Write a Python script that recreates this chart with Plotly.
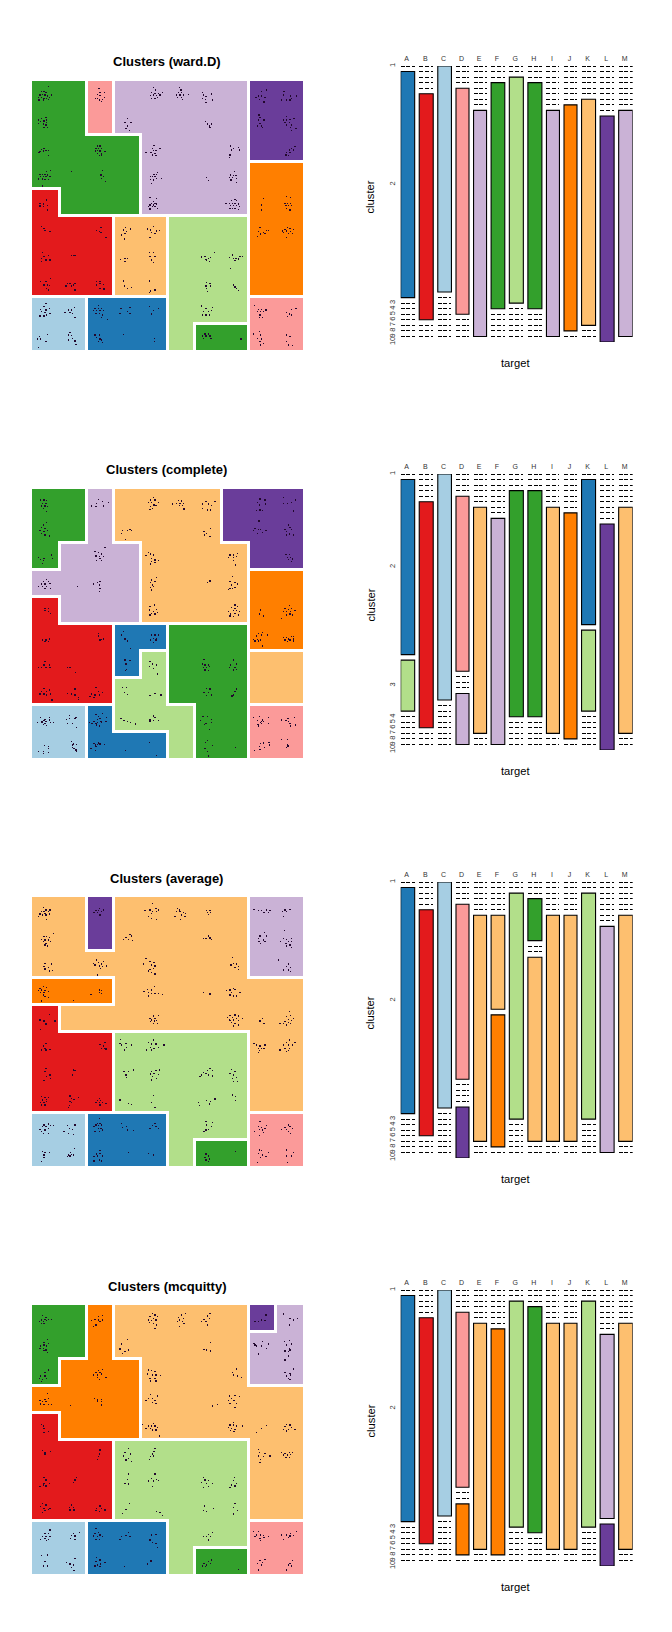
import plotly.graph_objects as go

W, H = 672, 1632
palette = ["#A6CEE3", "#1F78B4", "#B2DF8A", "#33A02C", "#FB9A99",
           "#E31A1C", "#FDBF6F", "#FF7F00", "#CAB2D6", "#6A3D9A"]
targets = list("ABCDEFGHIJKLM")
target_sizes = [42, 42, 41, 39, 39, 41, 42, 42, 39, 39, 42, 42, 42]
titles = ["Clusters (ward.D)", "Clusters (complete)", "Clusters (average)", "Clusters (mcquitty)"]

ward_grid = [
    [4, 4, 5, 9, 9, 9, 9, 9, 10, 10],
    [4, 4, 5, 9, 9, 9, 9, 9, 10, 10],
    [4, 4, 4, 4, 9, 9, 9, 9, 10, 10],
    [4, 4, 4, 4, 9, 9, 9, 9, 8, 8],
    [6, 4, 4, 4, 9, 9, 9, 9, 8, 8],
    [6, 6, 6, 7, 7, 3, 3, 3, 8, 8],
    [6, 6, 6, 7, 7, 3, 3, 3, 8, 8],
    [6, 6, 6, 7, 7, 3, 3, 3, 8, 8],
    [1, 1, 2, 2, 2, 3, 3, 3, 5, 5],
    [1, 1, 2, 2, 2, 3, 4, 4, 5, 5],
]
complete_grid = [
    [4, 4, 9, 7, 7, 7, 7, 10, 10, 10],
    [4, 4, 9, 7, 7, 7, 7, 10, 10, 10],
    [4, 9, 9, 9, 7, 7, 7, 7, 10, 10],
    [9, 9, 9, 9, 7, 7, 7, 7, 8, 8],
    [6, 9, 9, 9, 7, 7, 7, 7, 8, 8],
    [6, 6, 6, 2, 2, 4, 4, 4, 8, 8],
    [6, 6, 6, 2, 3, 4, 4, 4, 7, 7],
    [6, 6, 6, 3, 3, 4, 4, 4, 7, 7],
    [1, 1, 2, 3, 3, 3, 4, 4, 5, 5],
    [1, 1, 2, 2, 2, 3, 4, 4, 5, 5],
]
average_grid = [
    [7, 7, 10, 7, 7, 7, 7, 7, 9, 9],
    [7, 7, 10, 7, 7, 7, 7, 7, 9, 9],
    [7, 7, 7, 7, 7, 7, 7, 7, 9, 9],
    [8, 8, 8, 7, 7, 7, 7, 7, 7, 7],
    [6, 7, 7, 7, 7, 7, 7, 7, 7, 7],
    [6, 6, 6, 3, 3, 3, 3, 3, 7, 7],
    [6, 6, 6, 3, 3, 3, 3, 3, 7, 7],
    [6, 6, 6, 3, 3, 3, 3, 3, 7, 7],
    [1, 1, 2, 2, 2, 3, 3, 3, 5, 5],
    [1, 1, 2, 2, 2, 3, 4, 4, 5, 5],
]
mcquitty_grid = [
    [4, 4, 8, 7, 7, 7, 7, 7, 10, 9],
    [4, 4, 8, 7, 7, 7, 7, 7, 9, 9],
    [4, 8, 8, 8, 7, 7, 7, 7, 9, 9],
    [8, 8, 8, 8, 7, 7, 7, 7, 7, 7],
    [6, 8, 8, 8, 7, 7, 7, 7, 7, 7],
    [6, 6, 6, 3, 3, 3, 3, 3, 7, 7],
    [6, 6, 6, 3, 3, 3, 3, 3, 7, 7],
    [6, 6, 6, 3, 3, 3, 3, 3, 7, 7],
    [1, 1, 2, 2, 2, 3, 3, 3, 5, 5],
    [1, 1, 2, 2, 2, 3, 4, 4, 5, 5],
]

# share of each target in each cluster, one dict per target A..M
ward_shares = [{2: 1}, {6: 1}, {1: 1}, {5: 1}, {9: 1}, {4: 1}, {3: 1}, {4: 1}, {9: 1}, {8: 1}, {7: 1}, {10: 1}, {9: 1}]
complete_shares = [{2: 175, 3: 51}, {6: 1}, {1: 1}, {5: 175, 9: 51}, {7: 1}, {9: 1}, {4: 1}, {4: 1}, {7: 1}, {8: 1},
                   {2: 145, 3: 81}, {10: 1}, {7: 1}]
average_shares = [{2: 1}, {6: 1}, {1: 1}, {5: 175, 10: 51}, {7: 1}, {7: 94, 8: 132}, {3: 1}, {4: 42, 7: 184}, {7: 1},
                  {7: 1}, {3: 1}, {9: 1}, {7: 1}]
mcquitty_shares = [{2: 1}, {6: 1}, {1: 1}, {5: 175, 8: 51}, {7: 1}, {8: 1}, {3: 1}, {4: 1}, {7: 1}, {7: 1}, {3: 1},
                   {9: 184, 10: 42}, {7: 1}]

ward_dots = [
 (85,139),(65,155),(72,155),(78,158),(60,165),(68,163),(75,165),(82,168),(95,165),(55,172),(65,172),(72,175),(80,175),(88,172),(57,180),(70,180),(85,178),
 (78,232),(65,235),(55,240),(62,245),(72,243),(80,240),(55,250),(70,252),(78,255),(83,262),(72,262),(80,248),
 (72,325),(65,328),(85,331),(60,335),(70,333),(78,332),(57,338),(85,346),
 (92,392),(80,395),(60,403),(68,403),(75,403),(82,405),(62,410),(70,410),(78,410),(90,410),(55,417),(68,417),(75,418),(85,418),(67,438),(154,394),
 (232,318),(240,318),(228,325),(236,325),(245,325),(226,333),(240,333),(255,335),(232,340),(245,340),(238,347),(245,345),(232,332),
 (248,392),(243,405),(250,410),(245,415),(256,425),
 (237,145),(240,158),(253,158),(232,163),(240,167),(226,175),(238,180),(247,178),(253,172),(245,185),(232,175),
 (401,142),(407,150),(395,158),(405,160),(415,160),(428,157),(392,167),(400,165),(410,167),(420,165),(395,175),(405,175),(412,172),
 (478,142),(483,150),(475,158),(485,158),(470,165),(480,165),(490,165),(505,163),(472,172),(485,172),(488,178),
 (547,157),(575,162),(550,165),(558,170),(548,175),(556,178),(558,188),(578,180),
 (322,235),(315,247),(333,248),(322,258),(318,265),(328,272),
 (557,245),(563,252),(575,252),(568,258),(570,263),
 (402,316),(398,325),(420,325),(400,332),(408,332),(378,338),(393,338),(405,340),(398,345),(408,347),
 (632,318),(640,325),(655,322),(635,330),(658,330),(630,345),(628,352),
 (412,397),(402,403),(410,403),(392,410),(398,410),(405,410),(410,415),(425,415),(392,418),(400,420),(395,430),
 (560,413),(566,421),
 (643,394),(632,405),(640,407),(648,407),(628,412),(638,412),(650,415),(650,427),(633,420),
 (390,473),(410,476),(400,485),(395,490),(405,490),(390,495),(400,495),(410,492),(385,500),(398,500),(412,505),(390,507),(405,500),
 (645,478),(635,482),(650,482),(628,490),(637,490),(645,490),(618,490),(655,492),(632,497),(640,497),(650,497),(638,505),(645,505),(658,500),(655,508),(630,505),
 (80,480),(60,490),(70,492),(82,497),(60,498),(70,500),(83,510),
 (65,560),(72,565),(75,572),(90,575),(243,563),(230,572),(238,575),(243,578),(258,593),
 (68,637),(72,650),(85,647),(65,655),(78,660),(90,660),(65,665),(155,647),(160,647),(165,647),
 (92,715),(62,725),(78,725),(72,735),(82,735),(88,737),(80,745),(85,750),
 (142,730),(150,730),(165,730),(138,738),(155,738),(165,750),(160,735),
 (230,725),(240,725),(230,735),(240,730),(250,733),(240,745),(252,747),
 (317,562),(332,567),(310,570),(320,575),(315,580),(305,585),(313,597),
 (400,560),(383,567),(392,570),(410,573),(418,572),(395,577),(405,580),(390,593),
 (302,658),(315,655),(322,655),(315,665),(388,637),(400,637),(390,650),(405,650),(395,660),(400,667),
 (310,723),(313,738),(323,745),(335,743),(388,723),(405,750),(392,753),(388,757),
 (583,637),(545,650),(555,650),(565,655),(572,652),(560,662),(568,665),(545,652),(558,658),
 (638,645),(628,652),(640,655),(648,655),(660,650),(655,657),(668,650),(645,662),(632,685),
 (560,728),(570,730),(558,738),(572,738),(560,745),(563,755),(640,735),(645,741),(650,746),(655,752),
 (545,798),(558,805),(577,803),(550,815),(565,815),(575,812),(547,825),(558,825),(568,825),
 (555,882),(565,882),(548,888),(558,888),(570,888),(550,895),(573,895),(663,897),
 (78,790),(72,800),(88,805),(62,808),(78,810),(65,815),(75,818),(90,820),(60,828),(72,828),(80,825),
 (163,803),(145,810),(155,810),(135,817),(150,817),(158,820),(165,832),
 (82,883),(58,890),(52,897),(62,897),(78,905),(55,922),
 (150,878),(145,885),(155,887),(158,895),(145,900),(165,903),(168,913),
 (235,797),(225,805),(235,805),(245,805),(220,812),(230,812),(240,812),(250,812),(228,820),(238,820),(248,825),(245,832),(262,838),
 (303,805),(330,802),(322,815),(300,820),(330,820),(388,800),(415,805),(400,812),(395,822),
 (225,885),(238,885),(230,892),(240,897),(245,900),(235,905),(248,908),(310,883),(403,895),(403,905),
 (703,797),(715,808),(725,808),(738,810),(712,815),(722,815),(730,815),(720,825),(728,832),(718,832),
 (828,805),(815,808),(800,817),(808,822),(815,825),(802,830),
 (718,875),(700,882),(722,885),(712,895),(725,897),(720,905),(730,910),(722,915),
 (800,885),(810,890),(800,905),(805,915),(818,917),
 (740,150),(725,155),(715,168),(725,168),(708,172),(735,172),(718,178),(732,186),
 (792,155),(790,165),(812,168),(830,168),(785,180),(800,180),(810,180),(815,175),
 (717,225),(720,232),(715,240),(732,240),(720,250),(712,258),(725,258),(728,262),
 (800,230),(790,240),(800,240),(810,238),(822,235),(795,247),(808,247),(815,255),(800,255),(812,262),(828,265),(815,272),
 (825,320),(815,325),(808,330),(820,330),(800,338),(810,338),(798,345),(805,347),
 (730,475),(725,495),(725,510),
 (800,470),(812,472),(795,490),(803,490),(812,490),(798,497),(805,497),(815,497),(800,505),(810,510),
 (720,563),(730,578),(745,572),(715,575),(735,580),(722,582),(712,590),(740,572),
 (803,562),(795,568),(810,565),(820,568),(788,573),(800,573),(812,575),(790,578),(805,580),(818,580),(800,592),
]
complete_dots = [
 (62,180),(72,178),(80,182),(68,190),(78,190),(65,198),(75,198),(82,200),(70,205),(80,215),(72,182),
 (80,248),(70,255),(65,262),(75,265),(60,272),(72,275),(82,272),(65,280),(75,285),(88,288),
 (55,352),(62,358),(72,355),(95,345),(97,355),(70,362),(68,370),
 (235,178),(230,190),(247,185),(265,187),(215,198),(228,200),(250,198),
 (255,322),(225,335),(235,338),(245,342),(228,348),(238,350),(250,350),(240,355),(230,362),(245,362),
 (80,418),(70,425),(85,425),(65,432),(75,432),(90,430),(55,440),(68,440),(80,440),(92,445),(75,445),(172,439),
 (240,425),(220,432),(232,428),(238,435),(240,445),(238,455),
 (400,172),(392,180),(405,180),(385,187),(395,187),(415,187),(402,195),(392,200),(408,197),(398,205),(390,208),
 (475,182),(485,183),(458,192),(470,190),(480,190),(490,190),(478,197),(488,197),(492,207),
 (558,185),(585,185),(548,192),(565,192),(575,197),(548,205),(562,210),(572,210),
 (330,268),(308,272),(322,272),(335,272),(316,298),(305,280),
 (572,265),(552,275),(560,280),(553,285),(570,290),
 (385,337),(392,342),(378,347),(400,345),(395,355),(405,360),(415,362),(395,365),(405,368),(392,372),
 (652,340),(630,345),(640,345),(625,352),(640,352),(650,350),(640,362),(647,375),
 (410,412),(395,420),(392,428),(405,425),(398,435),(392,442),(400,440),(395,450),(562,428),(570,423),
 (637,410),(630,425),(645,428),(652,432),(635,435),(630,445),(645,442),(625,448),(638,445),
 (403,495),(390,500),(410,508),(388,510),(400,515),(395,520),(412,518),(390,525),(405,522),
 (645,495),(652,500),(635,503),(645,505),(625,515),(640,512),(650,512),(658,515),(632,522),(645,520),(655,525),(640,530),(630,528),
 (75,505),(85,505),(75,512),(85,515),(92,520),(68,600),(78,600),(88,597),(75,605),(85,605),
 (235,580),(235,588),(245,598),(240,600),(250,597),
 (75,665),(55,683),(72,675),(88,675),(65,683),(78,682),(90,682),(142,682),(150,682),(167,697),
 (72,745),(88,750),(65,755),(80,755),(60,762),(72,762),(92,762),(80,765),(96,780),
 (165,747),(142,760),(155,762),(165,765),(175,772),(175,778),
 (228,742),(235,755),(248,757),(215,762),(225,765),(238,765),(210,770),(222,772),
 (310,575),(305,585),(315,597),(322,603),(332,625),
 (395,585),(405,585),(415,585),(400,595),(410,595),(392,600),(408,600),(400,607),
 (315,660),(330,662),(318,672),(320,688),(316,692),
 (390,665),(398,672),(410,675),(388,680),(400,685),(412,702),
 (308,742),(320,743),(313,757),(323,763),(405,760),(390,767),(423,765),
 (303,836),(312,841),(323,845),(331,847),(347,852),
 (400,828),(405,832),(390,838),(390,843),(400,842),(415,842),
 (552,658),(548,672),(555,675),(565,675),(550,682),(560,682),(568,680),(555,690),(565,692),
 (640,660),(632,675),(650,672),(645,682),(628,682),(640,690),(650,688),
 (560,745),(570,747),(552,757),(565,757),(575,765),(560,767),(650,747),(645,755),(640,765),(636,768),
 (549,830),(562,829),(574,838),(541,841),(558,850),(574,847),(553,853),(568,868),
 (556,907),(562,901),(577,916),(555,925),(562,934),(565,948),(646,922),
 (61,832),(88,832),(75,838),(72,842),(68,846),(78,845),(52,848),(64,846),(88,840),(70,854),(79,856),(91,848),(100,848),(75,850),
 (148,826),(140,838),(148,836),(165,835),(168,833),(143,850),(157,850),(169,862),
 (73,916),(85,920),(85,926),(55,934),(70,934),(85,937),(70,940),
 (154,904),(170,913),(158,915),(158,922),(162,926),(168,930),(170,935),(160,912),
 (228,823),(247,820),(236,830),(259,832),(240,836),(233,838),(222,845),(233,848),(245,848),(209,848),(258,845),(230,855),(238,858),(228,850),(243,845),(216,851),
 (222,910),(236,909),(240,912),(226,915),(232,913),(253,913),(228,919),(213,925),(226,931),(388,907),(316,931),(409,946),
 (700,832),(718,830),(745,832),(728,840),(725,845),(712,842),(730,845),(722,848),(745,850),(714,853),(725,850),(716,858),
 (802,835),(806,835),(823,832),(785,840),(798,842),(806,845),(810,850),(826,855),(812,858),
 (722,910),(730,909),(747,907),(718,920),(733,922),(748,915),(720,928),(703,931),
 (784,898),(802,898),(802,915),(800,922),(804,918),
 (720,177),(735,180),(712,187),(737,192),(718,195),(710,212),(720,210),(728,212),
 (790,172),(827,180),(790,190),(803,190),(815,187),(820,213),
 (717,243),(705,265),(715,268),(722,268),(738,272),(712,280),(728,278),(700,272),
 (805,255),(795,268),(810,262),(815,268),(800,275),(808,282),(820,285),(800,285),
 (798,343),(808,343),(802,352),(812,352),(805,358),(818,357),(815,365),
 (722,510),(718,522),(730,528),
 (808,497),(795,505),(805,508),(815,505),(790,515),(800,515),(812,515),(825,512),(785,535),(800,525),(818,525),(810,522),
 (728,578),(715,580),(710,588),(725,585),(742,585),(700,598),(712,598),(722,600),(705,603),(716,603),(728,618),
 (790,592),(800,592),(815,590),(820,590),(805,597),(820,597),(795,600),(810,600),(820,603),(803,605),
]
average_dots = [
 (70,142),(90,150),(78,150),(65,155),(72,155),(85,155),(60,162),(75,160),(88,162),(55,170),(68,165),(80,178),(78,165),
 (100,220),(72,230),(80,230),(88,232),(65,238),(75,240),(85,240),(70,245),(92,245),(78,250),(82,258),(75,255),
 (75,310),(95,312),(72,320),(85,322),(75,327),(97,332),(88,333),
 (238,145),(228,152),(235,152),(250,150),(222,158),(232,158),(245,155),(240,165),
 (230,300),(220,310),(235,308),(245,312),(260,318),(238,318),(248,320),(225,315),(242,325),(232,345),(250,305),
 (70,380),(60,385),(80,383),(55,392),(65,390),(75,392),(62,398),(72,398),(85,395),(70,405),(75,410),(85,413),(65,423),(160,421),
 (238,390),(245,392),(213,403),(238,397),(245,400),
 (397,130),(408,145),(375,152),(390,150),(415,150),(398,155),(410,155),(385,170),(395,175),(410,178),(395,160),
 (473,145),(478,150),(480,155),(490,158),(497,160),(470,155),(485,165),(465,170),(495,170),(482,178),
 (560,152),(570,152),(563,158),(572,158),(566,163),
 (330,223),(318,232),(335,228),(310,238),(325,238),(337,242),
 (565,228),(550,236),(558,236),(570,234),(575,238),
 (378,295),(390,305),(402,308),(370,312),(395,315),(405,318),(400,325),(385,333),(395,338),(405,342),(390,328),
 (637,292),(640,310),(633,315),(650,312),(645,322),(655,320),(655,328),
 (403,380),(382,388),(395,390),(372,395),(385,397),(405,400),(415,400),(428,403),(395,400),(385,408),(550,397),(570,402),
 (640,385),(630,390),(645,388),(620,392),(635,397),(660,398),(630,405),(640,408),(650,408),
 (415,467),(400,468),(390,475),(405,475),(395,480),(403,483),(410,482),(392,485),(400,490),(412,490),
 (630,467),(645,465),(655,468),(622,472),(638,472),(650,475),(668,475),(628,480),(640,480),(655,482),(635,488),(645,490),(655,495),(640,498),(630,482),
 (727,475),(720,483),(732,490),
 (808,455),(812,467),(800,470),(820,475),(805,478),(815,482),(795,485),(805,488),(780,490),(790,490),(800,495),(812,490),
 (88,463),(60,480),(72,483),(105,483),(78,492),(62,508),
 (78,550),(70,558),(75,565),(65,570),(78,570),(90,568),(255,547),(240,553),(250,558),(255,565),(245,565),(258,567),
 (78,625),(75,635),(90,645),(80,650),(92,655),(72,662),(160,630),(165,632),(158,645),
 (65,710),(75,712),(85,712),(68,720),(80,718),(62,728),(72,728),(80,725),(65,735),(75,735),
 (150,708),(175,712),(155,715),(162,718),(150,725),(155,728),(148,737),(145,743),
 (238,715),(232,722),(242,722),(228,728),(238,728),(248,728),(240,735),(258,730),
 (302,538),(300,550),(318,550),(335,555),(305,555),(320,562),(313,570),
 (400,540),(385,547),(395,552),(408,552),(432,555),(380,570),(392,562),(402,565),(415,562),(395,570),
 (340,630),(312,635),(325,635),(318,645),(320,652),
 (418,630),(395,635),(408,632),(392,642),(402,640),(415,643),(398,650),(395,660),(410,655),
 (570,625),(562,632),(578,632),(550,638),(558,640),(545,645),(565,645),(578,648),(540,650),
 (635,628),(645,635),(630,640),(640,645),(650,652),(638,655),(640,665),(652,665),
 (300,720),(325,730),(335,733),(400,706),(395,727),(405,742),
 (585,717),(535,727),(560,722),(572,725),(568,732),(538,737),(637,705),(647,710),(647,722),
 (558,785),(578,787),(560,795),(575,800),(565,808),(552,815),(558,810),
 (558,882),(565,888),(555,893),(568,897),(558,900),(565,905),(646,874),
 (85,792),(72,795),(60,808),(68,800),(78,800),(92,797),(100,797),(65,815),(75,810),(85,805),(70,820),(85,820),
 (143,796),(165,795),(148,805),(158,808),(132,815),(145,820),(160,823),
 (68,875),(75,878),(88,877),(72,885),(72,892),(65,905),
 (163,865),(152,878),(145,885),(155,883),(142,890),(150,888),(160,885),
 (238,775),(232,790),(240,790),(228,795),(236,797),(245,795),(222,800),(235,805),(243,805),(248,810),(238,815),(225,815),
 (305,790),(308,803),(320,800),(322,810),(340,812),(405,790),(398,797),(390,805),(408,800),(415,805),
 (240,872),(230,882),(240,880),(222,890),(232,888),(248,888),(222,903),(238,900),(245,903),(325,877),(385,880),(400,885),
 (720,785),(740,797),(715,800),(725,803),(735,805),(703,815),(718,808),(728,810),(730,817),(718,827),
 (805,795),(795,802),(810,800),(785,808),(800,808),(818,805),(805,815),(812,820),
 (718,870),(725,872),(745,877),(715,880),(728,885),(738,890),(722,892),(712,907),
 (800,870),(820,878),(815,888),(800,888),(802,907),
 (702,148),(715,152),(725,152),(740,150),(750,152),(732,157),(745,158),
 (810,148),(795,150),(788,155),(800,155),(790,170),
 (733,217),(720,228),(740,228),(715,235),(730,240),(717,245),(722,250),(735,245),
 (793,212),(790,235),(800,238),(815,235),(782,245),(805,245),(815,245),(798,250),(810,255),(800,258),(815,262),
 (775,300),(805,312),(800,320),(812,322),(790,330),(805,330),(812,335),
 (702,550),(710,555),(720,558),(735,555),(715,565),(725,565),(732,565),(718,572),(715,578),
 (808,540),(800,548),(825,548),(790,555),(805,555),(818,555),(780,570),(795,565),(808,565),(800,575),(805,572),
]
mcquitty_dots = [
 (68,137),(78,143),(65,150),(75,148),(85,148),(95,148),(58,155),(70,155),(80,152),(65,160),(72,160),
 (82,208),(72,218),(85,220),(62,228),(72,225),(80,228),(60,235),(70,235),(78,240),(82,247),(72,242),
 (85,300),(75,308),(62,318),(75,318),(58,325),(68,328),(80,325),(65,335),
 (248,137),(235,140),(225,148),(235,150),(248,150),(215,152),(240,155),(228,165),(220,170),
 (248,298),(235,302),(228,308),(240,308),(220,315),(232,315),(245,312),(258,322),(232,322),(238,328),
 (83,370),(75,388),(85,385),(60,392),(68,395),(78,395),(62,402),(72,403),(85,403),(95,403),(152,406),
 (223,385),(232,390),(245,388),(245,395),(245,405),(232,395),
 (398,130),(405,135),(390,140),(400,145),(412,140),(385,150),(395,152),(408,150),(388,158),(400,160),(410,165),(405,175),
 (497,130),(485,135),(475,142),(490,145),(478,150),(488,155),(472,155),(492,160),(478,170),
 (570,130),(562,138),(552,148),(568,145),(545,155),(558,155),(562,165),
 (323,208),(305,222),(300,237),(325,240),(315,245),(308,250),(572,217),(552,238),(560,240),(572,243),
 (385,300),(395,302),(405,305),(382,312),(398,315),(408,315),(422,317),(390,325),(405,325),(392,333),(408,333),
 (650,297),(637,308),(640,315),(652,318),(665,322),
 (392,373),(412,378),(385,385),(398,385),(378,392),(405,392),(398,398),(408,400),(578,408),(592,403),
 (628,378),(645,377),(635,385),(658,380),(625,392),(642,392),(630,400),(650,400),(645,412),
 (367,463),(400,460),(385,468),(395,468),(405,468),(378,475),(392,475),(412,473),(398,480),(408,480),(418,498),
 (640,458),(630,465),(640,465),(650,468),(668,468),(625,472),(635,475),(645,478),(632,482),(642,485),
 (740,467),(725,475),(710,487),
 (800,463),(810,465),(795,470),(815,472),(790,478),(805,478),(825,478),(800,483),
 (65,463),(70,468),(72,475),(85,485),(72,487),(68,542),(75,548),(92,545),(75,552),
 (240,540),(238,552),(235,560),(232,568),
 (72,622),(78,630),(72,640),(88,640),(70,645),(60,650),(78,648),(165,630),(160,637),(170,622),
 (68,700),(78,705),(62,710),(72,715),(85,718),(75,722),(68,728),(90,715),
 (155,705),(148,712),(160,712),(150,720),(162,720),
 (240,708),(230,715),(245,715),(228,722),(238,725),(255,720),
 (325,535),(315,548),(332,552),(310,558),(325,565),(318,570),(335,575),
 (405,535),(402,545),(398,552),(392,560),(388,568),(400,558),
 (325,612),(322,628),(315,640),(325,642),
 (405,612),(395,625),(410,628),(385,633),(400,633),(415,632),(397,650),
 (550,622),(555,630),(565,632),(578,640),(545,637),(560,640),(550,652),(565,650),
 (643,622),(640,632),(650,640),(635,645),(645,648),(630,652),
 (328,700),(318,718),(307,730),(410,725),(420,728),(428,737),
 (553,708),(580,715),(550,722),(560,725),(645,700),(640,712),(652,722),(640,732),
 (578,787),(565,793),(560,800),(550,800),(572,800),(565,810),
 (575,870),(565,875),(552,880),(560,885),(572,880),(548,888),(556,890),(655,898),
 (90,780),(75,790),(85,790),(68,800),(78,800),(90,800),(62,808),(75,805),(85,808),(80,812),
 (178,787),(160,790),(155,797),(165,798),(152,805),(165,808),
 (65,857),(82,855),(75,875),(70,888),(82,888),
 (165,865),(140,878),(150,882),(160,885),(155,892),(162,902),
 (228,775),(235,787),(225,790),(240,795),(220,798),(232,800),(248,800),(228,808),(238,808),
 (325,787),(318,797),(305,800),(330,800),(300,808),
 (408,793),(395,795),(390,810),(398,818),(412,832),(408,820),
 (230,862),(240,870),(228,875),(242,882),(232,885),(225,888),(255,878),(240,890),(313,889),(393,873),(382,882),
 (700,785),(715,785),(710,795),(722,795),(730,797),(705,800),(720,805),(732,803),(745,800),(722,812),
 (830,785),(812,790),(785,795),(800,795),(810,798),(820,797),(805,803),(790,808),
 (735,868),(720,872),(728,878),(712,880),(725,885),(715,900),
 (818,872),(810,880),(805,885),(800,900),(815,888),
 (738,135),(725,150),(735,152),(705,155),(715,155),
 (790,132),(810,145),(820,150),(833,145),(808,165),
 (702,220),(728,215),(745,222),(710,228),(725,228),(740,235),(715,252),(705,225),
 (793,215),(808,212),(800,225),(815,222),(808,235),(805,245),(795,243),(810,240),(795,270),(805,258),
 (820,297),(795,308),(810,310),(800,318),(812,315),(805,325),(810,328),
 (715,538),(718,548),(735,550),(750,558),(715,558),(730,560),(722,568),(720,578),
 (818,547),(785,548),(795,550),(808,548),(790,555),(802,555),(812,553),(798,562),(808,562),
]

grids = [ward_grid, complete_grid, average_grid, mcquitty_grid]
shares = [ward_shares, complete_shares, average_shares, mcquitty_shares]
dots = [ward_dots, complete_dots, average_dots, mcquitty_dots]
map_tops = [123, 147, 111, 105]     # origin of each map's point coordinates

FONT = "Liberation Sans"
MAP_X0, MAP_X1 = 36, 849
CELL_W, CELL_H = (MAP_X1 - MAP_X0) / 10, 80.7
ROW = 408
GAP = 5.55 / 226                    # space between clusters, as a share of a column
TARGET_GAP = 13.67

fig = go.Figure()
scale = [[0, palette[0]]]
for i, c in enumerate(palette):
    scale += [[i / 10, c], [(i + 1) / 10, c]]
scale = scale[1:]


def dom(a, b, n):
    return [a / n, b / n]


annotations = []
for p in range(4):
    grid, top = grids[p], map_tops[p]
    xa, ya = f"x{2 * p + 1}", f"y{2 * p + 1}"
    map_top_px = 81 + ROW * p
    fig.add_trace(go.Heatmap(z=grid, x0=MAP_X0 + CELL_W / 2, dx=CELL_W, y0=top + CELL_H / 2, dy=CELL_H,
                             zmin=0.5, zmax=10.5, colorscale=scale, showscale=False, hoverinfo="skip",
                             xaxis=xa, yaxis=ya))
    # white borders between clusters, derived from the cluster grid
    bx, by = [], []
    pad = 4.5
    for r in range(10):
        for c in range(10):
            x0, y0 = MAP_X0 + c * CELL_W, top + r * CELL_H
            if c < 9 and grid[r][c] != grid[r][c + 1]:
                bx += [x0 + CELL_W, x0 + CELL_W, None]
                by += [y0 - pad, y0 + CELL_H + pad, None]
            if r < 9 and grid[r][c] != grid[r + 1][c]:
                bx += [x0 - pad, x0 + CELL_W + pad, None]
                by += [y0 + CELL_H, y0 + CELL_H, None]
    fig.add_trace(go.Scatter(x=bx, y=by, mode="lines", line=dict(color="white", width=3), hoverinfo="skip",
                             xaxis=xa, yaxis=ya))
    fig.add_trace(go.Scatter(x=[d[0] for d in dots[p]], y=[d[1] for d in dots[p]], mode="markers",
                             marker=dict(symbol="square", size=1.3, color="#22082e", line=dict(width=0)),
                             hoverinfo="skip", xaxis=xa, yaxis=ya))
    fig.update_layout({
        f"xaxis{2 * p + 1}": dict(domain=dom(32, 303, W), range=[MAP_X0, MAP_X1], visible=False, anchor=ya,
                                  automargin=False),
        f"yaxis{2 * p + 1}": dict(domain=[1 - (map_top_px + 269) / H, 1 - map_top_px / H],
                                  range=[top + 10 * CELL_H, top], visible=False, anchor=xa, automargin=False),
    })
    annotations.append(dict(text=f"<b>{titles[p]}</b>", x=166.5 / W, y=1 - (62 + ROW * p) / H, xref="paper",
                            yref="paper", showarrow=False, xanchor="center", yanchor="middle",
                            font=dict(family=FONT, size=13, color="black")))

    # mosaic of clusters by target
    xa2, ya2 = f"x{2 * p + 2}", f"y{2 * p + 2}"
    centers, left = [], 0
    bx, bb, bh, bw, bc = [], [], [], [], []
    dx, dy = [], []
    label_pos = []
    for t, size in enumerate(target_sizes):
        total = sum(shares[p][t].values())
        cur = 0
        for lvl in range(1, 11):
            if lvl in shares[p][t]:
                h = shares[p][t][lvl] / total
                bx.append(left + size / 2)
                bb.append(cur)
                bh.append(h)
                bw.append(size)
                bc.append(palette[lvl - 1])
                if t == 0:
                    label_pos.append(cur + h / 2)
                cur += h + GAP
            else:
                dx += [left, left + size, None]
                dy += [cur, cur, None]
                if t == 0:
                    label_pos.append(cur)
                cur += GAP
        centers.append(left + size / 2 - 3)
        left += size + TARGET_GAP
    fig.add_trace(go.Bar(x=bx, base=bb, y=bh, width=bw, orientation="v",
                         marker=dict(color=bc, line=dict(color="black", width=1.1)),
                         cliponaxis=False, hoverinfo="skip", xaxis=xa2, yaxis=ya2))
    fig.add_trace(go.Scatter(x=dx, y=dy, mode="lines", line=dict(color="black", width=1, dash="4px,1.7px"),
                             cliponaxis=False, hoverinfo="skip", xaxis=xa2, yaxis=ya2))
    mos_top = 66 + ROW * p
    fig.update_layout({
        f"xaxis{2 * p + 2}": dict(domain=dom(400.67, 632.67, W), range=[0, left - TARGET_GAP], side="top",
                                  tickmode="array", tickvals=centers, ticktext=targets, ticks="", showgrid=False,
                                  zeroline=False, showline=False, ticklabelstandoff=3, automargin=False,
                                  tickfont=dict(family=FONT, size=7, color="#333"), anchor=ya2),
        f"yaxis{2 * p + 2}": dict(domain=[1 - (mos_top + 276) / H, 1 - mos_top / H], range=[1 + 9 * GAP, 0],
                                  tickmode="array", tickvals=label_pos, ticktext=[str(i) for i in range(1, 11)],
                                  tickangle=-90, ticks="", showgrid=False, zeroline=False, showline=False,
                                  ticklabelstandoff=3, automargin=False,
                                  tickfont=dict(family=FONT, size=7.5, color="#333"), anchor=xa2),
    })
    annotations.append(dict(text="target", x=516 / W, y=1 - (363 + ROW * p) / H, xref="paper", yref="paper",
                            showarrow=False, xanchor="center", yanchor="middle",
                            font=dict(family=FONT, size=11.2, color="black")))
    annotations.append(dict(text="cluster", x=370 / W, y=1 - (197.5 + ROW * p) / H, xref="paper", yref="paper",
                            showarrow=False, xanchor="center", yanchor="middle", textangle=-90,
                            font=dict(family=FONT, size=11.2, color="black")))

fig.update_layout(width=W, height=H, margin=dict(l=0, r=0, t=0, b=0, pad=0, autoexpand=False), paper_bgcolor="white",
                  plot_bgcolor="white", showlegend=False, barmode="overlay", annotations=annotations)
fig.write_html("out.html",
               post_script=("document.body.style.margin='0';document.body.style.overflow='hidden';"
                            "var crisp=function(){document.querySelectorAll('.scatterlayer path')"
                            ".forEach(function(e){e.style.shapeRendering='crispEdges';});};"
                            "crisp();setTimeout(crisp,0);"
                            "document.getElementById('{plot_id}').on('plotly_afterplot',crisp);"),
               config={"displayModeBar": False})
